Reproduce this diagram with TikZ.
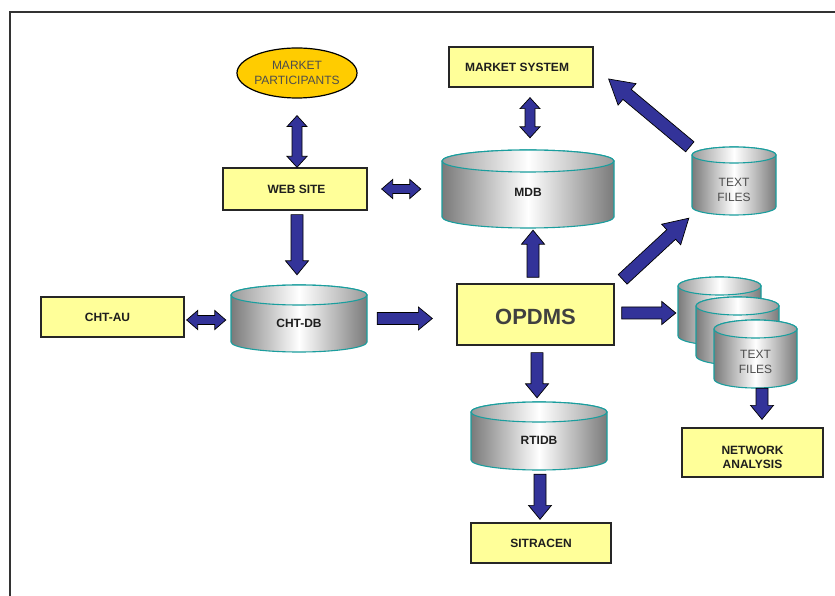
\documentclass[tikz,border=0pt]{standalone}
\usepackage{fontspec}
\setmainfont{Liberation Sans}
\usetikzlibrary{calc,shapes.geometric}

\definecolor{boxfill}{HTML}{FFFF99}
\definecolor{gold}{HTML}{FFCC00}
\definecolor{arrowblue}{HTML}{333399}
\definecolor{cyledge}{HTML}{1A9E9E}
\definecolor{cylgray}{HTML}{7A7A7A}
\definecolor{cyltop}{HTML}{9A9A9A}
\definecolor{labeldark}{HTML}{1E1E1E}
\definecolor{labelgray}{HTML}{4D4D4D}
\definecolor{framegray}{HTML}{333333}

\tikzset{
  ba shaft/.store in=\bashaft, ba head/.store in=\bahead, ba len/.store in=\balen,
  ba shaft=6pt, ba head=11.5pt, ba len=14pt,
  % block arrow with one head, drawn as a polygon between start and target
  onearrow/.style={draw=black, line width=0.7pt, fill=arrowblue, line join=miter,
    to path={
      ($(\tikztostart)!\bashaft!90:(\tikztotarget)$)
      -- ($(\tikztotarget)!\balen!(\tikztostart)!\bashaft!90:(\tikztotarget)$)
      -- ($(\tikztotarget)!\balen!(\tikztostart)!\bahead!90:(\tikztotarget)$)
      -- (\tikztotarget)
      -- ($(\tikztotarget)!\balen!(\tikztostart)!\bahead!-90:(\tikztotarget)$)
      -- ($(\tikztotarget)!\balen!(\tikztostart)!\bashaft!-90:(\tikztotarget)$)
      -- ($(\tikztostart)!\bashaft!-90:(\tikztotarget)$)
      -- cycle}},
  % block arrow with a head at each end
  twoway/.style={draw=black, line width=0.7pt, fill=arrowblue, line join=miter,
    ba shaft=4.5pt, ba head=9.5pt, ba len=11pt,
    to path={
      ($(\tikztostart)!\balen!(\tikztotarget)!\bashaft!90:(\tikztotarget)$)
      -- ($(\tikztotarget)!\balen!(\tikztostart)!\bashaft!90:(\tikztotarget)$)
      -- ($(\tikztotarget)!\balen!(\tikztostart)!\bahead!90:(\tikztotarget)$)
      -- (\tikztotarget)
      -- ($(\tikztotarget)!\balen!(\tikztostart)!\bahead!-90:(\tikztotarget)$)
      -- ($(\tikztotarget)!\balen!(\tikztostart)!\bashaft!-90:(\tikztotarget)$)
      -- ($(\tikztostart)!\balen!(\tikztotarget)!\bashaft!-90:(\tikztotarget)$)
      -- ($(\tikztostart)!\balen!(\tikztotarget)!\bahead!-90:(\tikztotarget)$)
      -- (\tikztostart)
      -- ($(\tikztostart)!\balen!(\tikztotarget)!\bahead!90:(\tikztotarget)$)
      -- cycle}},
  diag/.style={ba shaft=6.5pt, ba head=14pt, ba len=24pt},
  box/.style={draw=black!85, line width=1.3pt, fill=boxfill, inner sep=0pt,
    font=\fontsize{12}{14.5}\selectfont\bfseries, text=labeldark, align=center},
  cylbody/.style={draw=cyledge, line width=1.1pt, left color=cylgray,
    right color=cylgray, middle color=white},
  cylcap/.style={draw=cyledge, line width=1.1pt, left color=cyltop,
    right color=cyltop, middle color=white},
  cyllabel/.style={font=\fontsize{12}{15}\selectfont\bfseries, text=labeldark, inner sep=0pt},
  filelabel/.style={font=\fontsize{12}{15}\selectfont, text=labelgray, align=center, inner sep=0pt},
}

% database drum: [label style]{name}{left}{top}{right}{bottom}{cap radius}{text y}{text}
% (vertical values measured downwards from the top edge of the sheet)
\newcommand\dbcyl[9][cyllabel]{%
  \path[cylbody] (#3,{595-#4-#7}) -- (#3,{595-#6+#7})
    arc[start angle=180, end angle=360, x radius={(#5-#3)/2}, y radius=#7]
    -- (#5,{595-#4-#7})
    arc[start angle=0, end angle=180, x radius={(#5-#3)/2}, y radius=#7] -- cycle;
  \path[cylcap] ({(#3+#5)/2},{595-#4-#7}) ellipse[x radius={(#5-#3)/2}, y radius=#7];
  \node[inner sep=0pt, minimum width={(#5-#3)*1pt}, minimum height={(#6-#4)*1pt}]
    (#2) at ({(#3+#5)/2},{595-(#4+#6)/2}) {};
  \node[#1] (#2-text) at ({(#3+#5)/2},{595-#8}) {#9};
}

\begin{document}
\begin{tikzpicture}[x=1pt, y=1pt]
\useasboundingbox (0,0) rectangle (835,595);
\fill[white] (0,0) rectangle (835,595);

% sheet frame
\draw[line width=2pt, framegray] (10,-5) -- (10,583) -- (845,583);

% participants and web side
\node[draw=black, line width=1.2pt, fill=gold, ellipse, minimum width=120pt,
  minimum height=50pt, inner xsep=-3pt, inner ysep=0pt, align=center,
  font=\fontsize{12}{15.5}\selectfont, text=labelgray] (mp) at (297,522) {MARKET\\PARTICIPANTS};
\node[box, minimum width=144pt, minimum height=42pt] (web) at (295,406) {\hspace*{3pt}WEB SITE};
\node[box, minimum width=144pt, minimum height=40pt] (ms) at (521,528) {\hspace*{-8pt}MARKET SYSTEM};
\node[box, minimum width=143pt, minimum height=40pt] (chtau) at (112.5,278) {\hspace*{-10pt}CHT-AU};
\node[box, minimum width=157pt, minimum height=61pt, font=\fontsize{22}{26}\selectfont\bfseries,
  text=black!75] (opdms) at (535.5,280.5) {\rule{0pt}{21pt}OPDMS};
\node[box, minimum width=141pt, minimum height=49pt] (na) at (752.5,142.5)
  {\rule{0pt}{18.5pt}NETWORK\\ANALYSIS};
\node[box, minimum width=140pt, minimum height=40pt] (sit) at (541,52) {SITRACEN};

% databases and file stores
\dbcyl{mdb}{442}{150}{614}{228}{11}{192}{MDB}
\dbcyl[filelabel]{tf1}{692}{147}{776}{215}{8}{189.5}{TEXT\\FILES}
\dbcyl{chtdb}{231}{285}{367}{352}{10}{323}{CHT-DB}
\dbcyl{c1}{678}{277}{761}{345}{9}{311}{}
\dbcyl{c2}{696}{297}{779}{365}{9}{331}{}
\dbcyl[filelabel]{c3}{714}{320}{797}{388}{9}{362}{TEXT\\FILES}
\dbcyl{rtidb}{471}{402}{607}{470}{10}{440}{RTIDB}

% data flows
\draw[twoway, ba shaft=5pt, ba head=10pt] ([yshift=-17pt]mp.south) to ([xshift=2pt]web.north);
\draw[twoway] ([xshift=14pt]web.east) to ([xshift=-21pt]mdb.west);
\draw[onearrow] ([xshift=2pt,yshift=-4pt]web.south) to ([xshift=-2pt,yshift=10pt]chtdb.north);
\draw[twoway, ba shaft=5pt, ba head=10pt] ([xshift=9pt,yshift=-10pt]ms.south) to ([xshift=2pt,yshift=12pt]mdb.north);
\draw[onearrow] ([xshift=-2.5pt,yshift=6pt]opdms.north) to ([xshift=5pt,yshift=-2pt]mdb.south);
\draw[onearrow, diag] ([xshift=-2pt]tf1.north west) to ([xshift=15pt,yshift=-12pt]ms.east);
\draw[onearrow, diag] ([xshift=8pt,yshift=4pt]opdms.north east) to ([xshift=-3pt,yshift=-3pt]tf1.south west);
\draw[twoway] ([xshift=2pt,yshift=-3pt]chtau.east) to ([xshift=-5pt,yshift=-1.5pt]chtdb.west);
\draw[onearrow] ([xshift=10pt]chtdb.east) to ([xshift=-24pt,yshift=-4pt]opdms.west);
\draw[onearrow] ([xshift=7pt,yshift=1.5pt]opdms.east) to ([xshift=-2pt,yshift=-2pt]c1.west);
\draw[onearrow] ([xshift=6.5pt]c3.south) to ([xshift=9.5pt,yshift=8pt]na.north);
\draw[onearrow] ([xshift=1.5pt,yshift=-7pt]opdms.south) to ([xshift=-2pt,yshift=4pt]rtidb.north);
\draw[onearrow] ([xshift=1pt,yshift=-4pt]rtidb.south) to ([xshift=-1pt,yshift=3pt]sit.north);
\end{tikzpicture}
\end{document}
